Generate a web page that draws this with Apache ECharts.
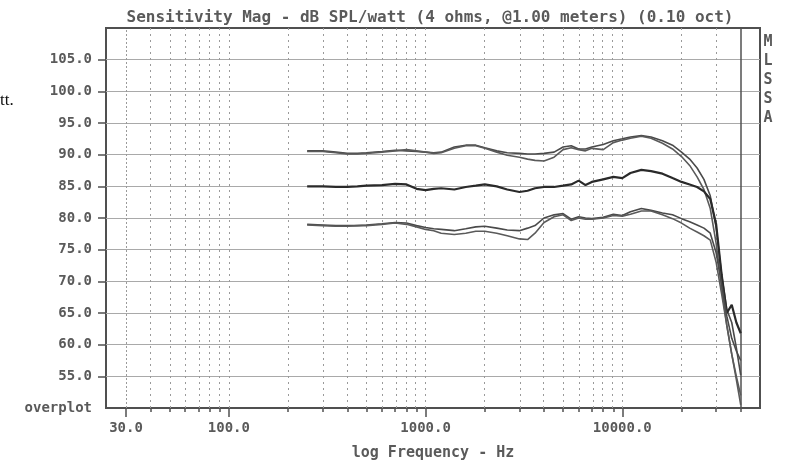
<!DOCTYPE html>
<html>
<head>
<meta charset="utf-8">
<script src="https://cdn.jsdelivr.net/npm/echarts@6/dist/echarts.min.js"></script>
<style>
  html, body { margin: 0; padding: 0; background: #ffffff; }
  #chart { width: 787px; height: 466px; }
</style>
</head>
<body>
<div id="chart"></div>
<script>
// Frequency points (Hz) shared by every measured trace
const freqHz = [250, 300, 350, 400, 450, 500,
  600, 700, 800, 900, 1000,
  1100, 1200, 1400, 1600, 1800, 2000,
  2300, 2600, 3000, 3300, 3600, 4000,
  4500, 5000, 5500, 6000, 6500, 7000,
  8000, 9000, 10000, 11000, 12500, 14000,
  16000, 18000, 20000, 22000, 24000, 26000,
  28000, 30000, 32000, 34000, 36000, 38000, 40000];

// Sensitivity, dB SPL/watt — upper pair of traces
const upperTraceA = [90.6, 90.6, 90.4, 90.2, 90.2, 90.3,
  90.5, 90.7, 90.6, 90.5, 90.4,
  90.3, 90.4, 91.2, 91.5, 91.5, 91.1,
  90.6, 90.3, 90.2, 90.1, 90.1, 90.2,
  90.4, 91.2, 91.4, 90.9, 90.9, 91.2,
  91.6, 92.2, 92.5, 92.8, 93.0, 92.8,
  92.2, 91.5, 90.4, 89.3, 87.9, 86.1,
  83.5, 78.5, 71.0, 65.5, 63.5, 59.5, 55.2];
const upperTraceB = [90.5, 90.5, 90.3, 90.1, 90.1, 90.2,
  90.4, 90.6, 90.8, 90.6, 90.4,
  90.2, 90.3, 91.0, 91.4, 91.4, 91.0,
  90.4, 89.9, 89.6, 89.3, 89.1, 89.0,
  89.6, 90.8, 91.1, 90.8, 90.6, 91.0,
  90.8, 91.9, 92.3, 92.6, 92.9, 92.6,
  91.8, 90.9, 89.7, 88.3, 86.5, 84.5,
  81.5, 76.0, 69.0, 63.0, 58.5, 54.5, 50.5];

// Middle trace
const middleTrace = [85.0, 85.0, 84.9, 84.9, 85.0, 85.1,
  85.2, 85.4, 85.3, 84.6, 84.4,
  84.6, 84.7, 84.5, 84.9, 85.1, 85.3,
  85.0, 84.5, 84.1, 84.3, 84.7, 84.9,
  84.9, 85.1, 85.3, 85.9, 85.2, 85.7,
  86.1, 86.5, 86.3, 87.1, 87.6, 87.4,
  87.0, 86.3, 85.7, 85.3, 84.9, 84.2,
  83.0, 79.0, 71.0, 65.0, 66.3, 63.5, 61.8];

// Lower pair of traces
const lowerTraceA = [79.0, 78.9, 78.8, 78.8, 78.8, 78.9,
  79.1, 79.3, 79.2, 78.8, 78.5,
  78.3, 78.2, 78.0, 78.3, 78.6, 78.7,
  78.4, 78.1, 78.0, 78.4, 78.8, 80.0,
  80.5, 80.7, 79.8, 80.2, 80.0, 79.9,
  80.1, 80.6, 80.4, 81.0, 81.5, 81.2,
  80.8, 80.5, 79.9, 79.4, 78.9, 78.4,
  77.6, 74.5, 69.5, 64.5, 61.0, 59.0, 57.5];
const lowerTraceB = [78.9, 78.8, 78.7, 78.7, 78.8, 78.8,
  79.0, 79.2, 79.0, 78.6, 78.2,
  78.0, 77.6, 77.4, 77.6, 77.9, 77.9,
  77.6, 77.2, 76.7, 76.6, 77.6, 79.3,
  80.2, 80.5, 79.6, 80.0, 79.8, 79.8,
  80.0, 80.4, 80.3, 80.6, 81.1, 81.1,
  80.5, 79.9, 79.2, 78.4, 77.8, 77.2,
  76.5, 73.0, 68.0, 63.0, 58.5, 55.0, 52.0];

// Axis ticks
const majorTickHz = [30, 100, 1000, 10000];
const minorTickHz = [40, 50, 60, 70, 80, 90,
  200, 300, 400, 500, 600, 700, 800, 900,
  2000, 3000, 4000, 5000, 6000, 7000, 8000, 9000,
  20000, 30000, 40000];
const gridHz = [30, 40, 50, 60, 70, 80, 90, 100,
  200, 300, 400, 500, 600, 700, 800, 900, 1000,
  2000, 3000, 4000, 5000, 6000, 7000, 8000, 9000, 10000,
  20000, 30000];
const limitHz = 40000;
const dbLabelValues = [50, 55, 60, 65, 70, 75, 80, 85, 90, 95, 100, 105];
const dbGridValues = [55, 60, 65, 70, 75, 80, 85, 90, 95, 100, 105];

const X_MIN_LOG = 1.3754;   // ~23.7 Hz
const X_MAX_LOG = 4.700;    // ~50 kHz

const lg = Math.log10;
const toPoints = (arr) => freqHz.map((f, i) => [lg(f), arr[i]]);

const mono = '"DejaVu Sans Mono", "Liberation Mono", monospace';
const textGray = '#5a5a5a';
const frameGray = '#505050';

const verticalGrid = gridHz.map(f => ({
  xAxis: lg(f),
  lineStyle: { color: '#9a9a9a', width: 1, type: f === 30 ? [2, 2] : [2, 4] }
}));
verticalGrid.push({ xAxis: lg(limitHz), lineStyle: { color: frameGray, width: 1.5, type: 'solid' } });
const horizontalGrid = dbGridValues.map(v => ({
  yAxis: v,
  lineStyle: { color: '#a9a9a9', width: 1, type: 'solid' }
}));

function trace(name, values, color, width) {
  return {
    name: name,
    type: 'line',
    xAxisIndex: 0,
    yAxisIndex: 0,
    data: toPoints(values),
    showSymbol: false,
    symbol: 'none',
    smooth: false,
    z: 5,
    lineStyle: { color: color, width: width },
    emphasis: { disabled: true }
  };
}

const chart = echarts.init(document.getElementById('chart'), null, { renderer: 'canvas' });

chart.setOption({
  animation: false,
  backgroundColor: '#ffffff',
  title: {
    text: 'Sensitivity Mag - dB SPL/watt (4 ohms, @1.00 meters) (0.10 oct)',
    left: 425,
    textAlign: 'center',
    top: 5,
    textStyle: { fontFamily: mono, fontSize: 16, fontWeight: 'bold', color: textGray }
  },
  grid: {
    left: 106, right: 27, top: 28, bottom: 55,
    show: true, borderColor: frameGray, borderWidth: 2, backgroundColor: 'transparent'
  },
  xAxis: [
    {
      type: 'value',
      position: 'bottom',
      min: X_MIN_LOG,
      max: X_MAX_LOG,
      axisLine: { show: true, lineStyle: { color: frameGray, width: 2 } },
      axisTick: {
        show: true, inside: false, length: 9,
        customValues: majorTickHz.map(lg),
        lineStyle: { color: frameGray, width: 1.5 }
      },
      axisLabel: {
        show: true,
        customValues: majorTickHz.map(lg),
        margin: 13,
        fontFamily: mono, fontSize: 14, fontWeight: 'bold', color: textGray,
        formatter: v => Math.pow(10, v).toFixed(1)
      },
      splitLine: { show: false },
      name: 'log Frequency - Hz',
      nameLocation: 'middle',
      nameGap: 38,
      nameTextStyle: { fontFamily: mono, fontSize: 15, fontWeight: 'bold', color: textGray }
    },
    {
      type: 'value',
      position: 'bottom',
      min: X_MIN_LOG,
      max: X_MAX_LOG,
      axisLine: { show: false },
      axisTick: {
        show: true, inside: false, length: 4,
        customValues: minorTickHz.map(lg),
        lineStyle: { color: frameGray, width: 1.5 }
      },
      axisLabel: { show: false },
      splitLine: { show: false }
    }
  ],
  yAxis: {
    type: 'value',
    min: 50,
    max: 110,
    interval: 5,
    axisLine: { show: true, lineStyle: { color: frameGray, width: 2 } },
    axisTick: {
      show: true, inside: false, length: 8,
      customValues: dbGridValues,
      lineStyle: { color: frameGray, width: 1.5 }
    },
    axisLabel: {
      show: true,
      customValues: dbLabelValues,
      margin: 14,
      fontFamily: mono, fontSize: 14, fontWeight: 'bold', color: textGray,
      formatter: v => (v === 50 ? 'overplot' : v.toFixed(1))
    },
    splitLine: { show: false }
  },
  graphic: [
    {
      // Analyzer name, stacked letters beside the frame
      type: 'text',
      x: 768, y: 33,
      style: {
        text: 'M\nL\nS\nS\nA',
        fill: textGray,
        font: 'bold 15px ' + mono,
        align: 'center',
        verticalAlign: 'top',
        lineHeight: 19
      }
    },
    {
      type: 'text',
      x: 0, y: 101,
      style: {
        text: 'tt.',
        fill: '#111111',
        font: '17px "Liberation Serif", "DejaVu Serif", serif',
        align: 'left',
        verticalAlign: 'middle'
      }
    }
  ],
  series: [
    {
      name: 'grid',
      type: 'line',
      xAxisIndex: 0,
      yAxisIndex: 0,
      data: [],
      z: 1,
      silent: true,
      markLine: {
        silent: true,
        symbol: ['none', 'none'],
        label: { show: false },
        animation: false,
        emphasis: { disabled: true },
        data: horizontalGrid.concat(verticalGrid)
      }
    },
    trace('upper A', upperTraceA, '#4a4a4a', 1.6),
    trace('upper B', upperTraceB, '#5a5a5a', 1.6),
    trace('middle', middleTrace, '#2a2a2a', 2.2),
    trace('lower A', lowerTraceA, '#4a4a4a', 1.6),
    trace('lower B', lowerTraceB, '#5a5a5a', 1.6)
  ]
});
</script>
</body>
</html>
